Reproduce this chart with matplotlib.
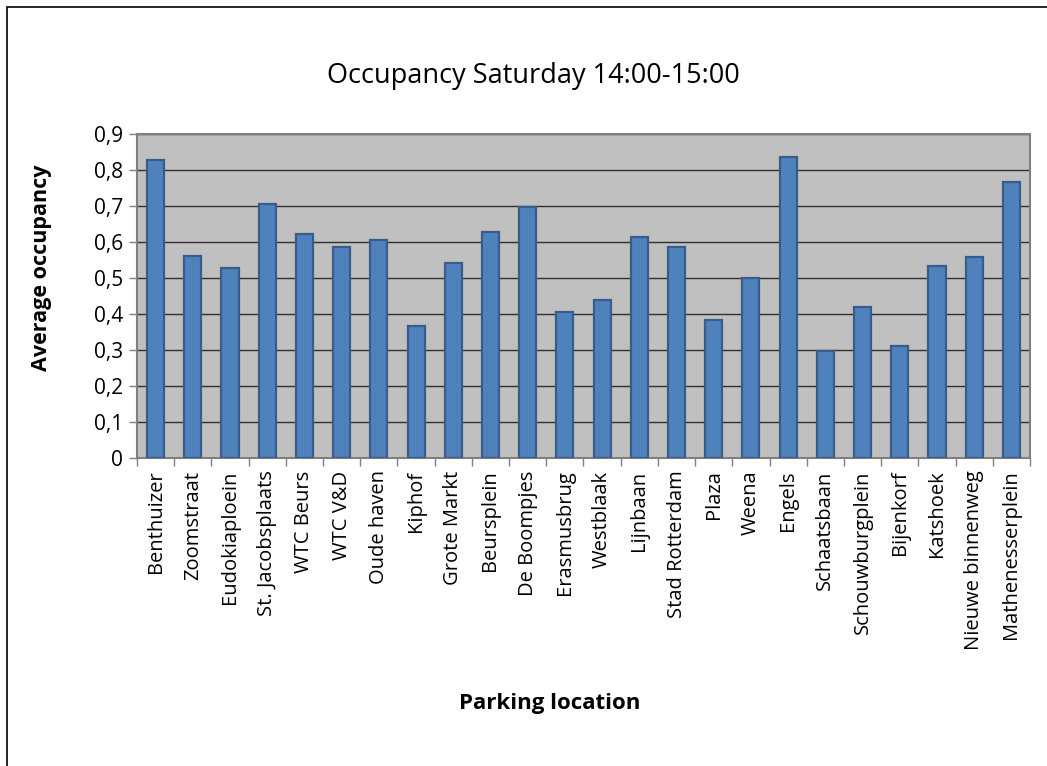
import matplotlib
matplotlib.use("Agg")
import matplotlib.pyplot as plt
from matplotlib.patches import Rectangle
from matplotlib.ticker import FixedLocator, FuncFormatter

categories = ["Benthuizer", "Zoomstraat", "Eudokiaploein", "St. Jacobsplaats", "WTC Beurs",
              "WTC V&D", "Oude haven", "Kiphof", "Grote Markt", "Beursplein", "De Boompjes",
              "Erasmusbrug", "Westblaak", "Lijnbaan", "Stad Rotterdam", "Plaza", "Weena",
              "Engels", "Schaatsbaan", "Schouwburgplein", "Bijenkorf", "Katshoek",
              "Nieuwe binnenweg", "Mathenesserplein"]
occupancy = [0.828, 0.561, 0.529, 0.706, 0.622, 0.585, 0.606, 0.368, 0.541, 0.628, 0.696,
             0.406, 0.439, 0.615, 0.587, 0.383, 0.500, 0.837, 0.296, 0.420, 0.312, 0.533,
             0.559, 0.766]
yticks = [0, 0.1, 0.2, 0.3, 0.4, 0.5, 0.6, 0.7, 0.8, 0.9]
title = "Occupancy Saturday 14:00-15:00"
xlabel = "Parking location"
ylabel = "Average occupancy"

plt.rcParams['font.family'] = ['Open Sans', 'DejaVu Sans']

fig = plt.figure(figsize=(10.47, 7.66), dpi=100)
fig.patches.append(Rectangle((7/1047, -0.05), 1.1, (766-7)/766 + 0.05, transform=fig.transFigure,
                             fill=False, edgecolor='black', linewidth=1.2))

ax = fig.add_axes([137/1047, 1-458/766, (1030-137)/1047, (458-134)/766])
ax.set_facecolor('#C0C0C0')
x = list(range(len(categories)))
ax.bar(x, occupancy, width=0.46, color='#4F81BD', edgecolor='#385D8A', linewidth=1.6, zorder=3)

ax.set_xlim(-0.5, len(categories)-0.5)
ax.set_ylim(0, 0.9)
ax.yaxis.set_major_locator(FixedLocator(yticks))
ax.yaxis.set_major_formatter(FuncFormatter(lambda v, p: ('%g' % round(v, 1)).replace('.', ',')))
ax.set_xticks(x)
ax.set_xticklabels(categories, rotation=90, fontsize=14.5)
ax.tick_params(axis='x', which='major', length=0, pad=9)
ax.set_xticks([i - 0.5 for i in range(len(categories)+1)], minor=True)
ax.tick_params(axis='x', which='minor', length=6, color='#808080', width=1, direction='out')
ax.tick_params(axis='y', length=6, color='#808080', width=1, direction='out', labelsize=15, pad=4)

ax.grid(axis='y', color='#303030', linewidth=1.0, zorder=1)
ax.set_axisbelow(True)
for s in ax.spines.values():
    s.set_color('#808080')
    s.set_linewidth(1.5)

fig.text(533/1047, 1-76/766, title, ha='center', va='center', fontsize=19.5)
fig.text(550/1047, 1-703/766, xlabel, ha='center', va='center', fontsize=16, fontweight='bold')
fig.text(42/1047, 1-268/766, ylabel, ha='center', va='center', rotation=90, fontsize=15.5, fontweight='bold')

fig.savefig('out.png', dpi=100)
